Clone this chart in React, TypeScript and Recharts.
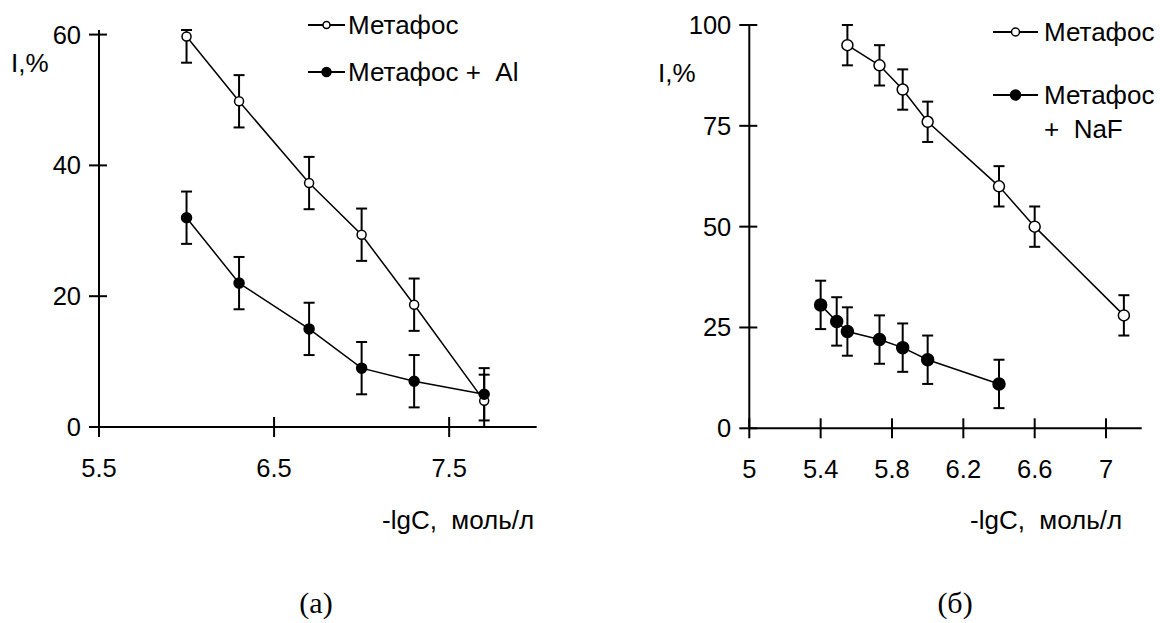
import React from 'react';
import { ScatterChart, Scatter, XAxis, YAxis, ErrorBar, Legend } from 'recharts';

const SANS = '"Liberation Sans", Arial, sans-serif';
const SERIF = '"Liberation Serif", "Times New Roman", serif';

// ---- Chart (а) data ----
const aNames = ['Метафос', 'Метафос + Al'];
const aXTicks = [5.5, 6.5, 7.5];
const aYTicks = [0, 20, 40, 60];
const aX = [6.0, 6.3, 6.7, 7.0, 7.3, 7.7];
const aMetafos = [59.7, 49.8, 37.3, 29.4, 18.7, 4];
const aMetafosErr: (number | number[])[] = [[4, 1], 4, 4, 4, 4, [3, 4]];
const aAl = [32, 22, 15, 9, 7, 5];
const aAlErr: (number | number[])[] = [4, 4, 4, 4, 4, [5, 4]];

// ---- Chart (б) data ----
const bNames = ['Метафос', 'Метафос + NaF'];
const bXTicks = [5, 5.4, 5.8, 6.2, 6.6, 7];
const bYTicks = [0, 25, 50, 75, 100];
const bMetX = [5.55, 5.73, 5.86, 6.0, 6.4, 6.6, 7.1];
const bMetafos = [95, 90, 84, 76, 60, 50, 28];
const bMetafosErr = [5, 5, 5, 5, 5, 5, 5];
const bNaFX = [5.4, 5.49, 5.55, 5.73, 5.86, 6.0, 6.4];
const bNaF = [30.6, 26.5, 24, 22, 20, 17, 11];
const bNaFErr = [6, 6, 6, 6, 6, 6, 6];

const rows = (xs: number[], ys: number[], errs: (number | number[])[]) =>
  xs.map((x, i) => ({ x, y: ys[i], err: errs[i] }));

const TICK_FS = 25.5;

const XTick = (props: any) => {
  const { x, y, payload } = props;
  return (
    <g>
      <line x1={x} x2={x} y1={y - 10} y2={y + 10} stroke="#000" strokeWidth={2} />
      <text x={x} y={y + 41} textAnchor="middle" dominantBaseline="central" fontSize={TICK_FS} fontFamily={SANS} fill="#000">
        {payload.value}
      </text>
    </g>
  );
};

const YTick = (props: any) => {
  const { x, y, payload } = props;
  return (
    <g>
      <line x1={x - 10} x2={x + 8} y1={y} y2={y} stroke="#000" strokeWidth={2} />
      <text x={x - 18} y={y} textAnchor="end" dominantBaseline="central" fontSize={TICK_FS} fontFamily={SANS} fill="#000">
        {payload.value}
      </text>
    </g>
  );
};

const marker = (r: number, filled: boolean) => (p: any) =>
  <circle cx={p.cx} cy={p.cy} r={r} fill={filled ? '#000' : '#fff'} stroke="#000" strokeWidth={1.5} />;

const makeLegend = (cfg: { x0: number; x1: number; rows: number[]; textX: number; r: number; split: boolean; w: number; h: number }) =>
  (props: any) => {
    const payload = props.payload || [];
    return (
      <svg width={cfg.w} height={cfg.h} style={{ overflow: 'visible' }}>
        {payload.map((e: any, i: number) => {
          const yy = cfg.rows[i];
          const filled = e.color === '#000';
          const cx = (cfg.x0 + cfg.x1) / 2;
          const label: string = String(e.value);
          const parts = cfg.split && label.includes(' + ') ? [label.split(' + ')[0], '+  ' + label.split(' + ')[1]] : [label.replace(' + ', ' +  ')];
          return (
            <g key={i}>
              <line x1={cfg.x0} x2={cfg.x1} y1={yy} y2={yy} stroke="#000" strokeWidth={2} />
              <circle cx={cx} cy={yy} r={filled ? cfg.r + 1 : cfg.r} fill={filled ? '#000' : '#fff'} stroke="#000" strokeWidth={1.5} />
              {parts.map((t, j) => (
                <text key={j} x={cfg.textX} y={yy + j * 34} dominantBaseline="central" fontSize={26} fontFamily={SANS} fill="#000" style={{ whiteSpace: 'pre' }}>
                  {t}
                </text>
              ))}
            </g>
          );
        })}
      </svg>
    );
  };

const legendA = makeLegend({ x0: 8, x1: 45, rows: [25, 72], textX: 48, r: 3.5, split: false, w: 280, h: 110 });
const legendB = makeLegend({ x0: 13, x1: 58, rows: [32, 95], textX: 64, r: 4, split: true, w: 180, h: 150 });

const Txt = ({ left, cy, size, children, family = SANS }: any) => (
  <div style={{ position: 'absolute', left, top: cy - size * 0.49, fontSize: size, lineHeight: 1, fontFamily: family, whiteSpace: 'pre', color: '#000' }}>
    {children}
  </div>
);

export default function App() {
  const axisStyle = { stroke: '#000', strokeWidth: 2 };
  return (
    <div style={{ position: 'absolute', left: 0, top: 0, width: 1160, height: 623, background: '#fff', overflow: 'hidden' }}>
      <div style={{ position: 'absolute', left: 0, top: 0 }}>
        <ScatterChart width={580} height={623} margin={{ top: 30, left: 39, right: 43.3, bottom: 156 }}>
          <XAxis type="number" dataKey="x" domain={[5.5, 8]} ticks={aXTicks} interval={0} tick={<XTick />} tickSize={0} tickMargin={0} tickLine={false} axisLine={axisStyle} height={40} />
          <YAxis type="number" dataKey="y" domain={[0, 60]} ticks={aYTicks} interval={0} tick={<YTick />} tickSize={0} tickMargin={0} tickLine={false} axisLine={axisStyle} width={60} />
          <Legend content={legendA} layout="vertical" align="center" verticalAlign="middle" wrapperStyle={{ left: 300, top: 0, width: 280, height: 110 }} />
          <Scatter name={aNames[0]} data={rows(aX, aMetafos, aMetafosErr)} fill="#fff" line={{ stroke: '#000', strokeWidth: 1.5 }} shape={marker(4.5, false)} isAnimationActive={false}>
            <ErrorBar dataKey="err" direction="y" width={5.5} stroke="#000" strokeWidth={2} />
          </Scatter>
          <Scatter name={aNames[1]} data={rows(aX, aAl, aAlErr)} fill="#000" line={{ stroke: '#000', strokeWidth: 1.5 }} shape={marker(5, true)} isAnimationActive={false}>
            <ErrorBar dataKey="err" direction="y" width={5.5} stroke="#000" strokeWidth={2} />
          </Scatter>
        </ScatterChart>
      </div>
      <div style={{ position: 'absolute', left: 580, top: 0 }}>
        <ScatterChart width={580} height={623} margin={{ top: 25, left: 109.3, right: 18.3, bottom: 154.7 }}>
          <XAxis type="number" dataKey="x" domain={[5, 7.2]} ticks={bXTicks} interval={0} tick={<XTick />} tickSize={0} tickMargin={0} tickLine={false} axisLine={axisStyle} height={40} />
          <YAxis type="number" dataKey="y" domain={[0, 100]} ticks={bYTicks} interval={0} tick={<YTick />} tickSize={0} tickMargin={0} tickLine={false} axisLine={axisStyle} width={60} />
          <Legend content={legendB} layout="vertical" align="center" verticalAlign="middle" wrapperStyle={{ left: 400, top: 0, width: 180, height: 150 }} />
          <Scatter name={bNames[0]} data={rows(bMetX, bMetafos, bMetafosErr)} fill="#fff" line={{ stroke: '#000', strokeWidth: 1.5 }} shape={marker(5.5, false)} isAnimationActive={false}>
            <ErrorBar dataKey="err" direction="y" width={5.5} stroke="#000" strokeWidth={2} />
          </Scatter>
          <Scatter name={bNames[1]} data={rows(bNaFX, bNaF, bNaFErr)} fill="#000" line={{ stroke: '#000', strokeWidth: 1.5 }} shape={marker(6, true)} isAnimationActive={false}>
            <ErrorBar dataKey="err" direction="y" width={5.5} stroke="#000" strokeWidth={2} />
          </Scatter>
        </ScatterChart>
      </div>
      <Txt left={11} cy={63} size={26}>I,%</Txt>
      <Txt left={658} cy={73} size={26}>I,%</Txt>
      <Txt left={382} cy={520} size={26}>-lgC,  моль/л</Txt>
      <Txt left={970} cy={520} size={26}>-lgC,  моль/л</Txt>
      <div style={{ position: 'absolute', left: 276, width: 80, textAlign: 'center', top: 588, fontSize: 30, lineHeight: 1, fontFamily: SERIF }}>(а)</div>
      <div style={{ position: 'absolute', left: 915, width: 80, textAlign: 'center', top: 588, fontSize: 30, lineHeight: 1, fontFamily: SERIF }}>(б)</div>
    </div>
  );
}
